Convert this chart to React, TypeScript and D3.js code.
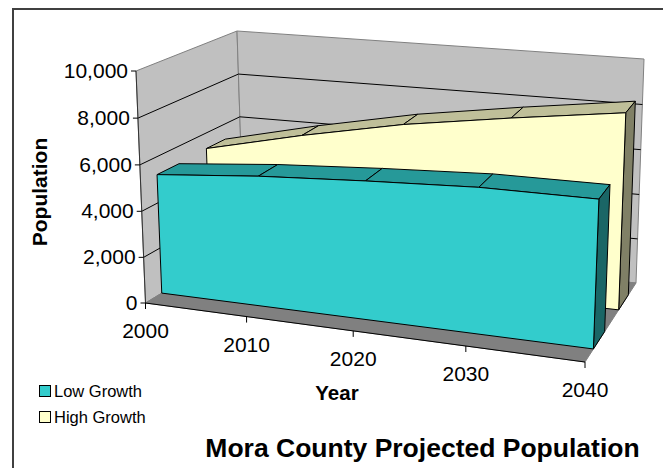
import React from "react";
import * as d3 from "d3";

const years = [2000, 2010, 2020, 2030, 2040];
const lowGrowth = [5230, 5650, 5950, 6200, 6250];
const highGrowth = [5300, 6300, 7200, 7900, 8550];
const valueTicks = [0, 2000, 4000, 6000, 8000, 10000];
const seriesNames = ["Low Growth", "High Growth"];

type Pt = [number, number];

// Corners of the plot box: front/back at value 0 and value 10,000.
const frontBottomLeft: Pt = [145.5, 303];
const frontBottomRight: Pt = [585, 362];
const backBottomLeft: Pt = [244, 243];
const backBottomRight: Pt = [636, 283];
const frontTopLeft: Pt = [136, 71];
const frontTopRight: Pt = [594, 117];
const backTopLeft: Pt = [237, 31];
const backTopRight: Pt = [644, 59];

// Foreshortening along the year and value axes.
const foreshorten = (k: number) => (t: number) => t / (t + (1 - t) * k);
const yearFrac = d3.scaleLinear().domain([2000, 2040]).range([0, 1]);
const valueFrac = d3.scaleLinear().domain([0, 10000]).range([0, 1]);
const uOf = foreshorten(1.116);
const vOf = foreshorten(1.02);

const mix = (a: Pt, b: Pt, t: number): Pt => [a[0] + (b[0] - a[0]) * t, a[1] + (b[1] - a[1]) * t];

function project(year: number, value: number, depth: number): Pt {
  const u = uOf(yearFrac(year));
  const v = vOf(valueFrac(value));
  const bottom = mix(mix(frontBottomLeft, frontBottomRight, u), mix(backBottomLeft, backBottomRight, u), depth);
  const top = mix(mix(frontTopLeft, frontTopRight, u), mix(backTopLeft, backTopRight, u), depth);
  return mix(bottom, top, v);
}

const poly = d3.line<Pt>().x((d) => d[0]).y((d) => d[1]);
const closed = (pts: Pt[]) => poly(pts) + "Z";

const X0 = 2000;
const X1 = 2040;
const Y1 = 10000;

interface Slab {
  values: number[];
  z0: number;
  z1: number;
  face: string;
  top: string;
  side: string;
}

function AreaSlab({ values, z0, z1, face, top, side }: Slab) {
  const frontEdge = years.map((y, i) => project(y, values[i], z0));
  const backEdge = years.map((y, i) => project(y, values[i], z1));
  const last = years.length - 1;
  const frontFace = [project(X0, 0, z0), ...frontEdge, project(X1, 0, z0)];
  const sideFace = [frontEdge[last], backEdge[last], project(X1, 0, z1), project(X1, 0, z0)];
  return (
    <g stroke="#000" strokeWidth={1} strokeLinejoin="round">
      {years.slice(0, -1).map((_, i) => (
        <path
          key={i}
          d={closed([frontEdge[i], backEdge[i], backEdge[i + 1], frontEdge[i + 1]])}
          fill={top}
        />
      ))}
      <path d={closed(sideFace)} fill={side} />
      <path d={closed(frontFace)} fill={face} />
    </g>
  );
}

export default function App() {
  const leftWall = [project(X0, 0, 0), project(X0, Y1, 0), project(X0, Y1, 1), project(X0, 0, 1)];
  const backWall = [project(X0, 0, 1), project(X0, Y1, 1), project(X1, Y1, 1), project(X1, 0, 1)];
  const floor = [project(X0, 0, 0), project(X0, 0, 1), project(X1, 0, 1), project(X1, 0, 0)];
  const font = "'Liberation Sans', Arial, sans-serif";
  return (
    <svg
      width={663}
      height={468}
      style={{ position: "absolute", left: 0, top: 0, background: "#fff" }}
      fontFamily={font}
      fill="#000"
    >
      <path d="M13,468V9H663" fill="none" stroke="#404040" strokeWidth={2} />

      <path d={closed(leftWall)} fill="#c0c0c0" stroke="#808080" />
      <path d={closed(backWall)} fill="#c0c0c0" stroke="#808080" />
      <path d={closed(floor)} fill="#808080" stroke="#808080" />

      {valueTicks
        .filter((v) => v > 0 && v < Y1)
        .map((v) => (
          <path
            key={v}
            d={poly([project(X0, v, 0), project(X0, v, 1), project(X1, v, 1)]) ?? ""}
            fill="none"
            stroke="#000"
          />
        ))}

      <path d={poly([project(X0, 0, 0), project(X0, Y1, 0)]) ?? ""} stroke="#333" fill="none" />
      <path d={poly([project(X0, 0, 0), project(X1, 0, 0)]) ?? ""} stroke="#000" fill="none" />

      {valueTicks.map((v) => {
        const [x, y] = project(X0, v, 0);
        return (
          <g key={v}>
            <path d={`M${x - 5},${y}H${x}`} stroke="#000" />
            <text x={x - 8} y={y + 7} fontSize={21} textAnchor="end">
              {d3.format(",")(v)}
            </text>
          </g>
        );
      })}

      {years.map((yr) => {
        const [x, y] = project(yr, 0, 0);
        return (
          <g key={yr}>
            <path d={`M${x},${y}V${y + 6}`} stroke="#000" />
            <text x={x} y={y + 35} fontSize={21} textAnchor="middle">
              {yr}
            </text>
          </g>
        );
      })}

      <AreaSlab values={highGrowth} z0={0.66} z1={0.85} face="#ffffcc" top="#bfbf99" side="#808066" />
      <AreaSlab values={lowGrowth} z0={0.165} z1={0.385} face="#33cccc" top="#269999" side="#1a6666" />

      <text x={47} y={192} fontSize={21} fontWeight="bold" textAnchor="middle" transform="rotate(-90 47 192)">
        Population
      </text>
      <text x={337} y={400} fontSize={20.5} fontWeight="bold" textAnchor="middle">
        Year
      </text>
      <text x={422.5} y={457} fontSize={26.5} fontWeight="bold" textAnchor="middle">
        Mora County Projected Population
      </text>

      {seriesNames.map((name, i) => (
        <g key={name}>
          <rect
            x={39.5}
            y={385.5 + i * 26}
            width={11}
            height={11}
            fill={i === 0 ? "#33cccc" : "#ffffcc"}
            stroke="#000"
          />
          <text x={54} y={396.5 + i * 26} fontSize={16.5}>
            {name}
          </text>
        </g>
      ))}
    </svg>
  );
}
